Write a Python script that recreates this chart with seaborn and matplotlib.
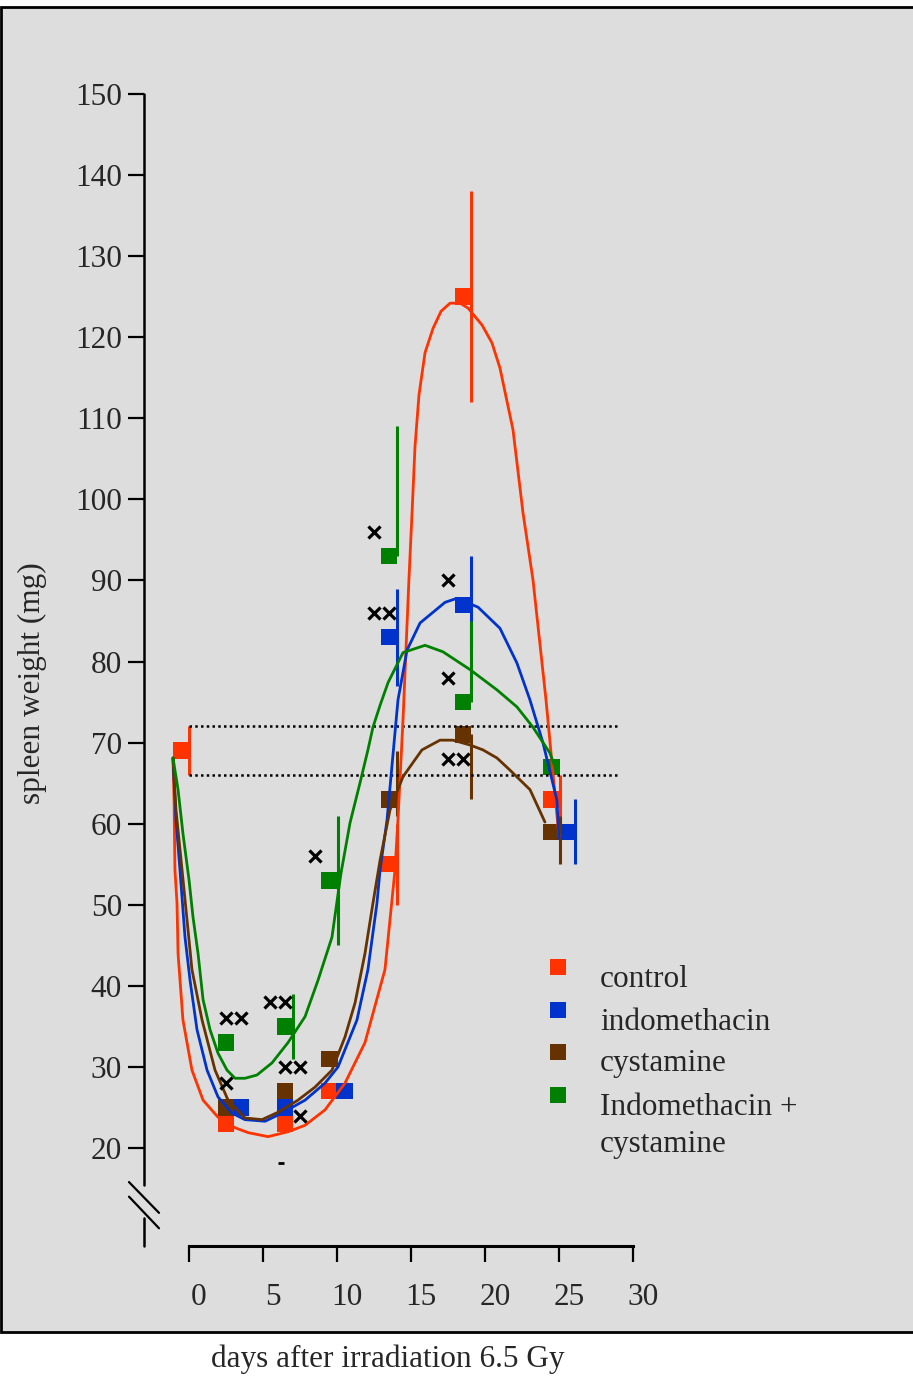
import matplotlib
matplotlib.use('Agg')
import numpy as np
import pandas as pd
import matplotlib.pyplot as plt
import matplotlib.transforms as mtransforms
from matplotlib.patches import Rectangle
import seaborn as sns

# ---- data ----
groups = ['control', 'indomethacin', 'cystamine', 'Indomethacin +\ncystamine']
colors = ['#ff3300', '#0033cc', '#663300', '#008000']

# group means (squares) with one-sided / two-sided error bars
ctrl_day = [-0.54, 2.5, 6.5, 9.5, 13.5, 18.5, 24.5]
ctrl_val = [69, 23, 23, 27, 55, 125, 63]
ctrl_lo = [3, 0, 0, 0, 5, 13, 3]
ctrl_hi = [3, 0, 0, 0, 5, 13, 3]

indo_day = [3.5, 6.5, 10.5, 13.5, 18.5, 25.5]
indo_val = [25, 25, 27, 83, 87, 59]
indo_lo = [0, 0, 0, 6, 6, 4]
indo_hi = [0, 0, 0, 6, 6, 4]

cyst_day = [2.5, 6.5, 9.5, 13.5, 18.5, 24.5]
cyst_val = [25, 27, 31, 63, 71, 59]
cyst_lo = [0, 0, 0, 2, 8, 4]
cyst_hi = [0, 0, 0, 6, 0, 2]

combo_day = [2.5, 6.5, 9.5, 13.5, 18.5, 24.5]
combo_val = [33, 35, 53, 93, 75, 67]
combo_lo = [0, 4, 8, 0, 0, 0]
combo_hi = [0, 4, 8, 16, 10, 0]

# fitted curves
ctrl_curve_d = [-1.08, -1.01, -0.95, -0.81, -0.74, -0.41, 0.20, 0.95, 1.96, 3.11, 3.99, 5.34, 6.69,
                7.84, 9.19, 10.54, 11.89, 13.24, 13.92, 14.12, 14.46, 14.86, 15.07, 15.27, 15.54,
                15.95, 16.49, 17.03, 17.64, 18.31, 18.85, 19.80, 20.47, 21.01, 21.89, 22.57, 23.24,
                24.12, 25.0]
ctrl_curve_v = [68.1, 62.9, 54.3, 50.2, 44.0, 35.8, 29.6, 25.9, 23.8, 22.5, 21.9, 21.4, 22.0,
                22.8, 24.7, 28.0, 33.0, 42.0, 54.3, 60.5, 72.8, 90.1, 98.3, 106.5, 112.9,
                118.1, 121.1, 123.2, 124.2, 124.2, 123.6, 121.5, 119.3, 116.2, 108.6, 98.3, 90.1,
                75.3, 58.4]

indo_curve_d = [-1.08, -0.88, -0.61, -0.27, 0.07, 0.54, 1.22, 1.96, 2.91, 3.78, 5.14, 6.28, 7.84,
                9.19, 10.07, 11.35, 12.09, 12.70, 12.91, 13.38, 14.12, 14.73, 15.61, 17.30, 18.11,
                19.53, 21.01, 22.16, 23.04, 23.92, 24.86, 25.0]
indo_curve_v = [68.1, 60.5, 54.3, 46.0, 40.7, 34.6, 29.6, 26.3, 24.3, 23.5, 23.3, 24.3, 25.9,
                28.0, 30.0, 35.8, 42.0, 50.2, 54.3, 60.45, 75.25, 81.4, 84.75, 87.3, 87.8,
                86.7, 84.1, 79.8, 75.25, 69.95, 62.9, 58.2]

cyst_curve_d = [-1.08, -0.88, -0.47, 0.20, 0.88, 1.76, 2.64, 3.78, 4.93, 6.01, 7.36, 8.51, 9.66,
                10.54, 11.22, 11.89, 12.43, 12.91, 13.58, 14.46, 15.74, 16.96, 17.84, 18.99, 19.86,
                20.81, 21.69, 23.04, 24.05]
cyst_curve_v = [68.1, 61.7, 54.3, 42.0, 35.8, 29.6, 25.9, 23.7, 23.5, 24.4, 25.9, 27.5, 29.6,
                33.7, 37.9, 44.0, 50.2, 55.5, 61.7, 65.8, 69.1, 70.3, 70.3, 69.7, 69.1,
                68.1, 66.6, 64.2, 60.2]

combo_curve_d = [-1.08, -0.74, -0.41, 0.0, 0.27, 0.61, 0.95, 1.42, 1.96, 2.57, 3.11, 3.78, 4.59,
                 5.61, 6.69, 7.84, 8.72, 9.66, 10.27, 10.88, 11.55, 12.09, 12.43, 12.91, 13.45,
                 14.46, 15.95, 17.16, 18.99, 20.81, 22.16, 23.24, 24.39, 24.73]
combo_curve_v = [68.1, 64.2, 58.8, 53.1, 48.5, 44.0, 38.3, 34.6, 31.7, 29.6, 28.6, 28.6, 29.0,
                 30.5, 33.0, 36.2, 40.7, 46.0, 53.9, 60.1, 65.0, 69.1, 71.9, 74.6, 77.4,
                 81.1, 82.0, 81.2, 79.0, 76.5, 74.4, 71.9, 68.7, 67.0]

# significance crosses
cross_day = [2.5, 3.5, 2.5, 5.5, 6.5, 6.5, 7.5, 7.5, 8.5, 12.5, 12.5, 13.5, 17.5, 17.5, 17.5, 18.5]
cross_val = [36, 36, 28, 38, 38, 30, 30, 24, 56, 96, 86, 86, 90, 78, 68, 68]
dash_day = [6.2]
dash_val = [18.1]

normal_range = [66, 72]
normal_days = [0, 29]

x_ticks = [0, 5, 10, 15, 20, 25, 30]
y_ticks = list(range(20, 160, 10))

# ---- assemble tables ----
pal = dict(zip(groups, colors))
pts = pd.concat([
    pd.DataFrame({'day': d, 'weight': v, 'lo': lo, 'hi': hi, 'group': g})
    for g, d, v, lo, hi in zip(groups,
                               [ctrl_day, indo_day, cyst_day, combo_day],
                               [ctrl_val, indo_val, cyst_val, combo_val],
                               [ctrl_lo, indo_lo, cyst_lo, combo_lo],
                               [ctrl_hi, indo_hi, cyst_hi, combo_hi])
], ignore_index=True)
curves = pd.concat([
    pd.DataFrame({'day': d, 'weight': v, 'group': g})
    for g, d, v in zip(groups,
                       [ctrl_curve_d, indo_curve_d, cyst_curve_d, combo_curve_d],
                       [ctrl_curve_v, indo_curve_v, cyst_curve_v, combo_curve_v])
], ignore_index=True)

sns.set_theme(style='white')
plt.rcParams['font.family'] = ['Liberation Serif', 'DejaVu Serif']
FS = 22.5

W, H = 913, 1377
fig = plt.figure(figsize=(W / 100, H / 100), dpi=100)
fig.patch.set_facecolor('white')
fig.add_artist(Rectangle((0.001, 1 - 1332 / H), 1.2, (1332 - 7) / H, transform=fig.transFigure,
                         facecolor='#dddddd', edgecolor='black', lw=2, zorder=0))

# pixel geometry of the plot area
x0_px, x_per_day = 189, 14.8
y20_px, y_per_unit = 1148, 8.108
left_px, right_px, top_px, bottom_px = 144, 780, 60, 1246
ax = fig.add_axes([left_px / W, 1 - bottom_px / H, (right_px - left_px) / W, (bottom_px - top_px) / H])
ax.set_facecolor('none')
ax.set_xlim((left_px - x0_px) / x_per_day, (right_px - x0_px) / x_per_day)
ax.set_ylim(20 - (bottom_px - y20_px) / y_per_unit, 20 + (y20_px - top_px) / y_per_unit)

# squares
sns.scatterplot(data=pts, x='day', y='weight', hue='group', palette=pal, marker='s', s=140,
                linewidth=0, legend=False, ax=ax, zorder=2)
# error bars on the right edge of each square
err_dx = 0.55
for g in groups:
    sub = pts[(pts.group == g) & ((pts.lo > 0) | (pts.hi > 0))]
    ax.vlines(sub.day + err_dx, sub.weight - sub.lo, sub.weight + sub.hi, color=pal[g], lw=2.2, zorder=3)

# fitted curves
sns.lineplot(data=curves, x='day', y='weight', hue='group', palette=pal, sort=False, estimator=None,
             units='group', lw=2.0, legend=False, ax=ax, zorder=4)

# normal range
ax.hlines(normal_range, normal_days[0], normal_days[1], colors='black', lw=1.8,
          linestyles=(0, (1, 1.3)), zorder=3)

# significance marks
sns.scatterplot(x=cross_day, y=cross_val, marker='x', s=75, color='black', linewidth=2.3, ax=ax, zorder=5)
ax.plot(dash_day, dash_val, marker='_', ms=4, mew=2, color='black', ls='none')

# axes styling
for s in ['top', 'right', 'left']:
    ax.spines[s].set_visible(False)
ax.spines['bottom'].set_bounds(0, 30)
ax.spines['bottom'].set_linewidth(2.2)
ax.spines['bottom'].set_color('black')
ax.set_xticks(x_ticks)
ax.set_yticks(y_ticks)
ax.tick_params(axis='x', direction='out', length=11.5, width=1.6, color='black', pad=15, labelsize=FS)
ax.tick_params(axis='y', direction='out', length=11.5, width=1.6, color='black', pad=4.3, labelsize=FS)
ax.tick_params(axis='y', left=True)
ax.tick_params(axis='x', bottom=True)
offset = mtransforms.ScaledTranslation(0.10, 0, fig.dpi_scale_trans)
for lab in ax.get_xticklabels():
    lab.set_transform(lab.get_transform() + offset)
ax.set_xlabel('')
ax.set_ylabel('')

# left spine with break
ylo, yhi = ax.get_ylim()
brk_top, brk_bot = 15.4, 11.4
yt = ax.get_yaxis_transform()
ax.plot([0, 0], [brk_top, 150], color='black', lw=1.8, transform=yt, clip_on=False)
ax.plot([0, 0], [ylo, brk_bot], color='black', lw=1.8, transform=yt, clip_on=False)
ax.plot([-0.0236, 0.0236], [15.8, 12.0], color='black', lw=1.6, transform=yt, clip_on=False)
ax.plot([-0.0236, 0.0236], [14.0, 10.1], color='black', lw=1.6, transform=yt, clip_on=False)

# manual legend (each text line placed on its own baseline)
leg_sq_y = [967, 1010, 1052, 1095]
leg_txt_y = [987, 1030, 1071, 1115]
line_step = 37
for g, c, sy, ty in zip(groups, colors, leg_sq_y, leg_txt_y):
    fig.add_artist(Rectangle(((558 - 8) / W, 1 - (sy + 8) / H), 16 / W, 16 / H,
                             transform=fig.transFigure, facecolor=c, edgecolor='none', zorder=5))
    for i, line in enumerate(g.split('\n')):
        fig.text(600 / W, 1 - (ty + i * line_step) / H, line, fontsize=FS, va='baseline', ha='left')

fig.text(388 / W, 1 - 1367 / H, 'days after irradiation 6.5 Gy', fontsize=FS, ha='center', va='baseline')
fig.text(32 / W, 1 - 683 / H, 'spleen weight (mg)', fontsize=FS, rotation=90, ha='center', va='center')

fig.savefig('out.png', dpi=100)
